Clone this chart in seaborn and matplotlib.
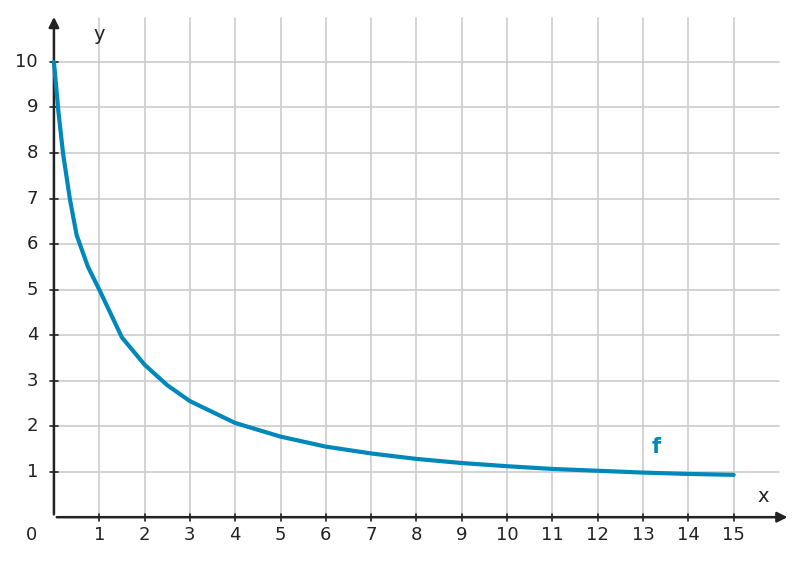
import numpy as np
import pandas as pd
import matplotlib
matplotlib.use('Agg')
import matplotlib.pyplot as plt
import seaborn as sns

# values
xs = [0, 0.1, 0.2, 0.35, 0.5, 0.75, 1, 1.5, 2, 2.5, 3, 4, 5, 6, 7, 8, 9, 10, 11, 12, 13, 14, 15]
ys = [10, 8.9, 8.0, 7.0, 6.2, 5.5, 5.0, 3.95, 3.35, 2.9, 2.55, 2.07, 1.77, 1.55, 1.4, 1.28, 1.19, 1.12, 1.06, 1.02, 0.98, 0.95, 0.93]
x_ticks = list(range(1, 16))
y_ticks = list(range(1, 11))

df = pd.DataFrame({'x': xs, 'y': ys})
sns.set_style('white')
plt.rcParams['font.family'] = ['DejaVu Sans']

fig = plt.figure(figsize=(7.98, 5.65), dpi=100)
ax = fig.add_axes([0, 0, 1, 1])
ax.set_xlim(-1.19, 16.42)
ax.set_ylim(-1.05, 11.36)
ax.axis('off')

grid = '#cccccc'
for t in x_ticks:
    ax.plot([t, t], [0, 10.97], color=grid, lw=1.2, zorder=1)
for t in y_ticks:
    ax.plot([0, 16.0], [t, t], color=grid, lw=1.2, zorder=1)

ax.annotate('', xy=(16.25, 0), xytext=(0, 0),
            arrowprops=dict(arrowstyle='-|>', color='#222222', lw=1.8, mutation_scale=15), zorder=3)
ax.annotate('', xy=(0, 11.05), xytext=(0, 0),
            arrowprops=dict(arrowstyle='-|>', color='#222222', lw=1.8, mutation_scale=15), zorder=3)
for t in x_ticks:
    ax.plot([t, t], [-0.08, 0.08], color='#222222', lw=1.2)
    ax.text(t, -0.4, str(t), ha='center', va='center', fontsize=13, color='#222222')
for t in y_ticks:
    ax.plot([-0.08, 0.08], [t, t], color='#222222', lw=1.2)
    ax.text(-0.35, t, str(t), ha='right', va='center', fontsize=13, color='#222222')
ax.text(-0.38, -0.4, '0', ha='right', va='center', fontsize=13, color='#222222')
ax.text(1.0, 10.6, 'y', ha='center', va='center', fontsize=14, color='#222222')
ax.text(15.65, 0.45, 'x', ha='center', va='center', fontsize=14, color='#222222')

sns.lineplot(data=df, x='x', y='y', ax=ax, color='#0088bb', lw=3, zorder=4)
ax.text(13.3, 1.55, 'f', ha='center', va='center', fontsize=15, fontweight='bold', color='#0088bb')

fig.savefig('out.png', dpi=100)
